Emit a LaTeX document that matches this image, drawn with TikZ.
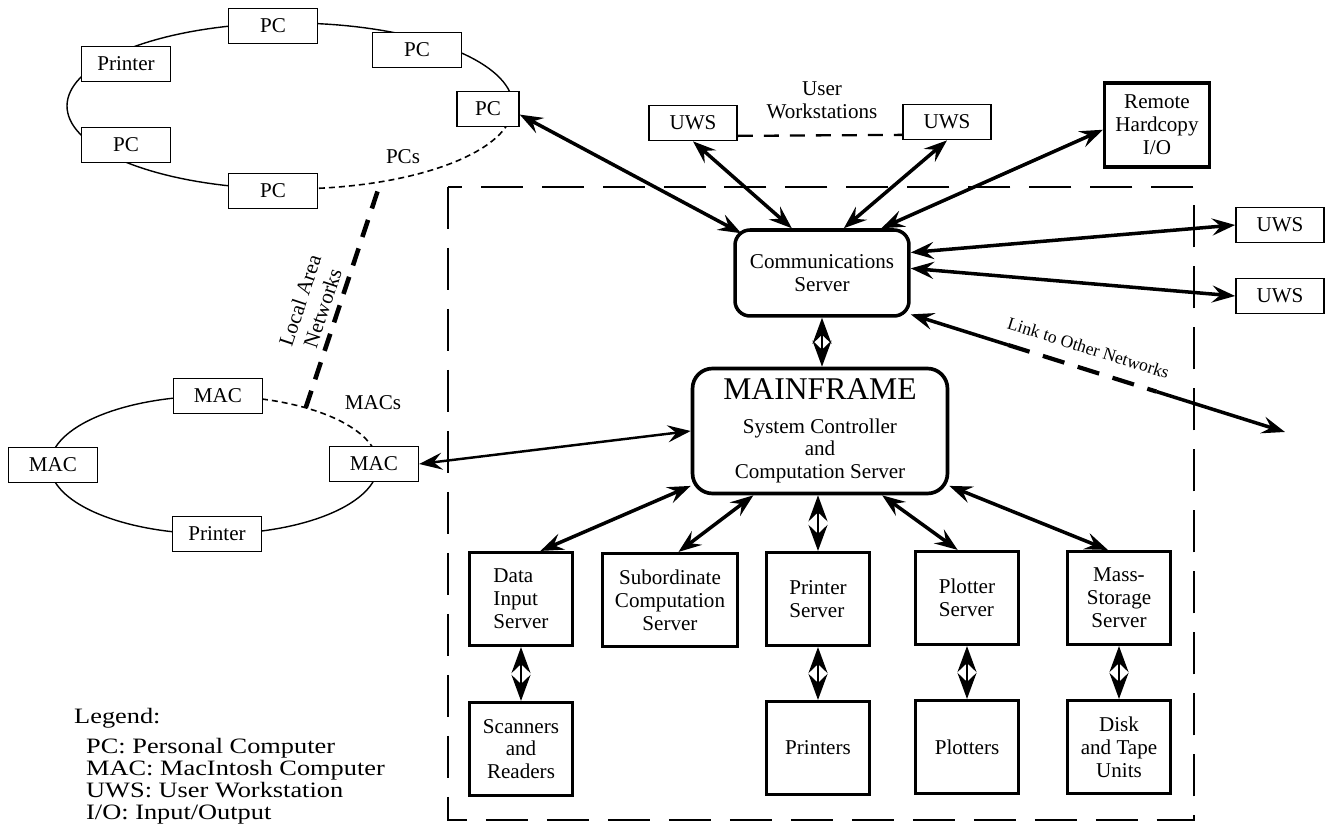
\documentclass[tikz,border=0pt]{standalone}
\usepackage{fontspec}
\setmainfont{Liberation Serif}
\newfontfamily\legendfont{Liberation Serif}[FakeStretch=1.2]
\usetikzlibrary{arrows.meta,calc}

\begin{document}
\begin{tikzpicture}[x=0.02cm, y=-0.02cm,
  every node/.style={font=\fontsize{12}{13}\selectfont},
  ringbox/.style={draw, line width=0.8pt, fill=white, minimum width=1.78cm, minimum height=0.7cm, inner sep=0pt},
  uwsbox/.style={draw, line width=1pt, minimum width=1.76cm, minimum height=0.7cm, inner sep=0pt},
  srvbox/.style={draw, line width=1.8pt, minimum width=2.06cm, minimum height=1.86cm, inner sep=1pt, align=center},
  hub/.style={draw, line width=2pt, rounded corners=0.3cm, align=center},
  duplex/.style={{Stealth[length=4.6mm,width=3.4mm,inset=1.7mm]}-{Stealth[length=4.6mm,width=3.4mm,inset=1.7mm]}, line width=2pt},
  stack/.style={{Stealth[length=5.2mm,width=3.8mm,inset=1.8mm]}-{Stealth[length=5.2mm,width=3.8mm,inset=1.8mm]}, line width=1.5pt},
  enclosure/.style={line width=0.8pt, dash pattern=on 0.84cm off 0.38cm},
]
  \useasboundingbox (0,0) rectangle (1333,824);

  % dashed frame round the central system
  \draw[enclosure] (448,187) rectangle (1194,820);

  % PC ring
  \draw[line width=0.8pt, domain=83:372, samples=120, variable=\t]
    plot ({290+223*cos(\t)},{106+83*sin(\t)});
  \draw[line width=0.9pt, dash pattern=on 0.12cm off 0.08cm, domain=12:83, samples=40, variable=\t]
    plot ({290+223*cos(\t)},{106+83*sin(\t)});
  \node[ringbox] (pcT) at (273,26) {PC};
  \node[ringbox] (pcTR) at (417,50) {PC};
  \node[ringbox, minimum width=1.24cm] (pcR) at (488,109) {PC};
  \node[ringbox] (prnP) at (126,64) {Printer};
  \node[ringbox] (pcL) at (126,145) {PC};
  \node[ringbox] (pcB) at (273,191) {PC};
  \node (pcs) at (403,157) {PCs};

  % MAC ring
  \draw[line width=0.8pt, domain=-15:287, samples=120, variable=\t]
    plot ({214+164*cos(\t)},{465+69*sin(\t)});
  \draw[line width=0.9pt, dash pattern=on 0.12cm off 0.08cm, domain=-73:-15, samples=40, variable=\t]
    plot ({214+164*cos(\t)},{465+69*sin(\t)});
  \node[ringbox] (macT) at (218,396) {MAC};
  \node[ringbox] (macL) at (53,465) {MAC};
  \node[ringbox] (macR) at (374,464) {MAC};
  \node[ringbox] (prnM) at (217,534) {Printer};
  \node (macs) at (373,403) {MACs};

  % link between the two rings
  \coordinate (pcring) at ({290+223*cos(66)},{106+83*sin(66)});
  \coordinate (macring) at ({214+164*cos(-56)},{465+69*sin(-56)});
  \draw[line width=2.6pt, dash pattern=on 0.36cm off 0.24cm] (macring) --
    node[pos=0.42, above, sloped, align=center, font=\fontsize{12}{13.5}\selectfont] {Local Area\\Networks} (pcring);

  % user workstations and hardcopy
  \node[uwsbox] (uwsA) at (693,123) {UWS};
  \node[uwsbox] (uwsB) at (947,122) {UWS};
  \node[align=center] (uwslbl) at (822,100) {User\\Workstations};
  \draw[line width=1.3pt, dash pattern=on 0.3cm off 0.22cm] (uwsA.-16) -- (uwsB.196);
  \node[srvbox, minimum width=2.1cm, minimum height=1.68cm] (rhc) at (1157,125) {Remote\\Hardcopy\\I/O};
  \node[uwsbox] (uwsC) at (1280,225) {UWS};
  \node[uwsbox] (uwsD) at (1280,296) {UWS};

  % servers
  \node[hub, minimum width=3.48cm, minimum height=1.72cm] (cs) at (822,273) {Communications\\Server};
  \node[hub, rounded corners=0.4cm, line width=2.1pt, minimum width=5.1cm, minimum height=2.5cm] (mf) at (820,431)
    {{\fontsize{18}{20}\selectfont MAINFRAME}\\[6pt]System Controller\\and\\Computation Server};
  \node[srvbox, align=left] (dis) at (521,599) {Data\\Input\\Server};
  \node[srvbox, minimum width=2.7cm] (sub) at (670,600) {Subordinate\\Computation\\Server};
  \node[srvbox, align=left] (ps) at (818,599) {Printer\\Server};
  \node[srvbox, align=left] (pls) at (967,598) {Plotter\\Server};
  \node[srvbox] (mss) at (1119,598) {Mass-\\Storage\\Server};
  \node[srvbox] (sr) at (521,749) {Scanners\\and\\Readers};
  \node[srvbox] (prs) at (818,748) {Printers};
  \node[srvbox] (plt) at (967,747) {Plotters};
  \node[srvbox] (dtu) at (1119,747) {Disk\\and Tape\\Units};

  % connections
  \draw[duplex] (pcR.-10) -- ($(cs.north west)+(8,5)$);
  \draw[duplex] (uwsA.south) -- (cs.124);
  \draw[duplex] (uwsB.south) -- (cs.64);
  \draw[duplex] (cs.37) -- (rhc.185);
  \draw[duplex] (cs.13) -- (uwsC.west);
  \draw[duplex] (cs.3) -- (uwsD.west);
  \draw[duplex, line width=1.4pt] (macR.east) -- (mf.west);
  \draw[duplex] (mf.-157) -- (dis.68);
  \draw[duplex] (mf.224) -- (sub.80);
  \draw[duplex] (mf.-46) -- (pls.101);
  \draw[duplex] (mf.-23) -- (mss.103);
  \draw[stack] (cs.south) -- (cs.south |- mf.north);
  \draw[stack] (ps.north |- mf.south) -- (ps.north);
  \foreach \a/\b in {dis/sr, ps/prs, pls/plt, mss/dtu}
    \draw[stack] (\a.south) -- (\b.north);

  % link to other networks
  \coordinate (farnet) at (1285,432);
  \coordinate (lk1) at ($(cs.-25)!0.26!(farnet)$);
  \coordinate (lk2) at ($(cs.-25)!0.656!(farnet)$);
  \draw[line width=2pt, {Stealth[length=4.6mm,width=3.4mm,inset=1.7mm]}-] (cs.-25) -- (lk1);
  \draw[line width=2.4pt, dash pattern=on 0.45cm off 0.28cm] (lk1) --
    node[above=4pt, sloped, font=\fontsize{10}{11}\selectfont] {Link to Other Networks} (lk2);
  \draw[line width=2pt, -{Stealth[length=4.6mm,width=3.4mm,inset=1.7mm]}] (lk2) -- (farnet);

  % legend
  \node[anchor=west, font=\legendfont\fontsize{12.5}{12.5}\selectfont] (lgd) at (68,718) {Legend:};
  \node[anchor=west, align=left, font=\legendfont\fontsize{12.5}{12.6}\selectfont] (lgdtxt) at (80,781)
    {PC: Personal Computer\\MAC: MacIntosh Computer\\UWS: User Workstation\\I/O: Input/Output};
\end{tikzpicture}
\end{document}
